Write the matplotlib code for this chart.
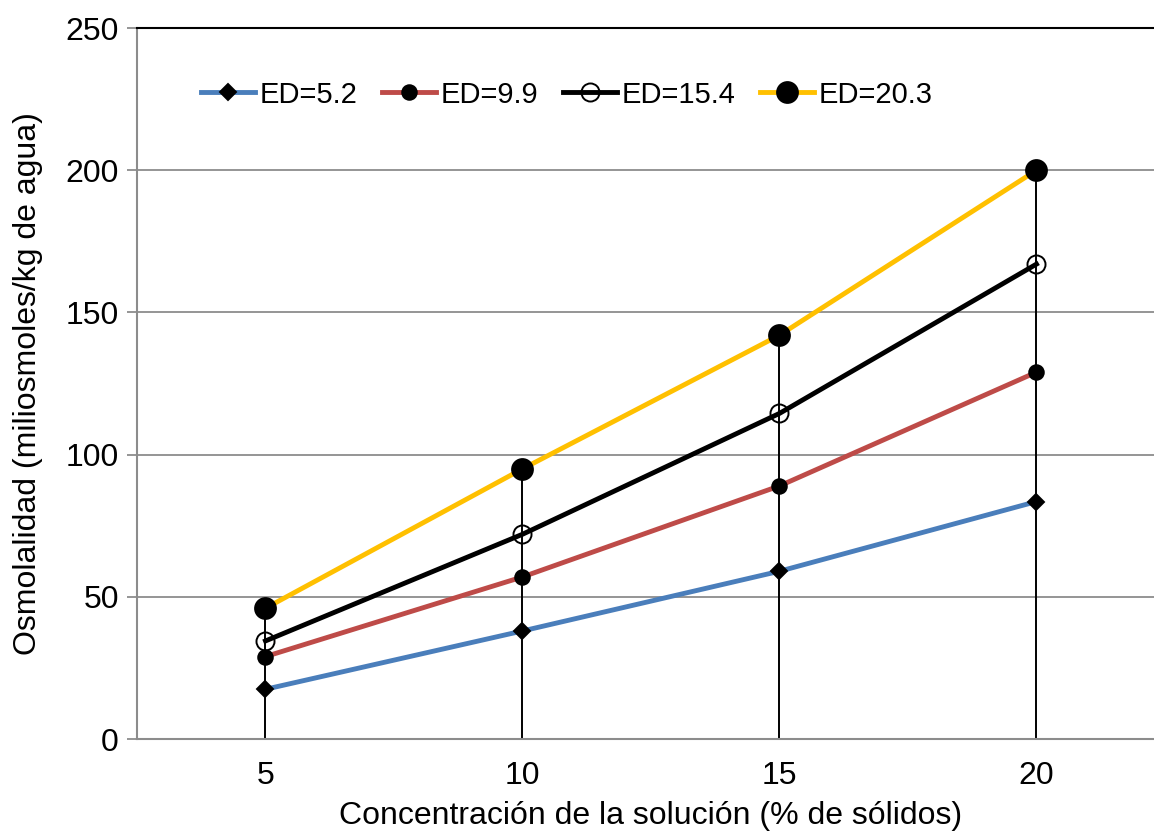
import numpy as np
import matplotlib.pyplot as plt

plt.rcParams['font.family'] = ['Liberation Sans', 'DejaVu Sans']

concentracion = [5, 10, 15, 20]
ed_labels = ['ED=5.2', 'ED=9.9', 'ED=15.4', 'ED=20.3']
ed_5_2 = [17.5, 38, 59, 83.5]
ed_9_9 = [29, 57, 89, 129]
ed_15_4 = [34.5, 72, 114.5, 167]
ed_20_3 = [46, 95, 142, 200]


def main():
    fig = plt.figure(figsize=(11.54, 8.33), dpi=100)
    ax = fig.add_axes([0.1187, 0.1128, 0.8908, 0.8535])

    series = [ed_5_2, ed_9_9, ed_15_4, ed_20_3]
    colors = ['#4a7ebb', '#be4b48', '#000000', '#ffc000']
    markers = ['D', 'o', 'o', 'o']
    sizes = [8, 10.5, 13, 15]
    faces = ['black', 'black', 'none', 'black']

    # drop lines from the highest point down to the axis
    tops = np.max(np.array(series), axis=0)
    ax.vlines(concentracion, 0, tops, color='black', lw=1.4, zorder=2)

    for vals, lab, c, m, s, fc in zip(series, ed_labels, colors, markers, sizes, faces):
        ax.plot(concentracion, vals, color=c, lw=3.5, marker=m, ms=s,
                mfc=fc, mec='black', mew=1.4, label=lab, zorder=3)

    ax.set_xlim(2.5, 22.5)
    ax.set_ylim(0, 250)
    ax.set_xticks(concentracion)
    ax.set_yticks([0, 50, 100, 150, 200, 250])
    ax.yaxis.grid(True, color='#8c8c8c', lw=1.3)
    ax.set_axisbelow(True)

    ax.spines['top'].set_color('black')
    ax.spines['top'].set_linewidth(1.5)
    ax.spines['right'].set_visible(False)
    for side in ['left', 'bottom']:
        ax.spines[side].set_color('#8c8c8c')
        ax.spines[side].set_linewidth(1.5)
    ax.tick_params(axis='y', length=7, width=1.3, color='#8c8c8c', labelsize=23, pad=6)
    ax.tick_params(axis='x', length=0, labelsize=23, pad=16)

    ax.set_xlabel('Concentración de la solución (% de sólidos)', fontsize=23, labelpad=7)
    ax.set_ylabel('Osmolalidad (miliosmoles/kg de agua)', fontsize=23, labelpad=16)

    ax.legend(loc='upper left', bbox_to_anchor=(0.037, 0.963), ncol=4, frameon=False,
              fontsize=21, handlelength=1.85, handletextpad=0.15, columnspacing=0.85)

    fig.savefig('out.png', dpi=100)


if __name__ == "__main__":
    main()
